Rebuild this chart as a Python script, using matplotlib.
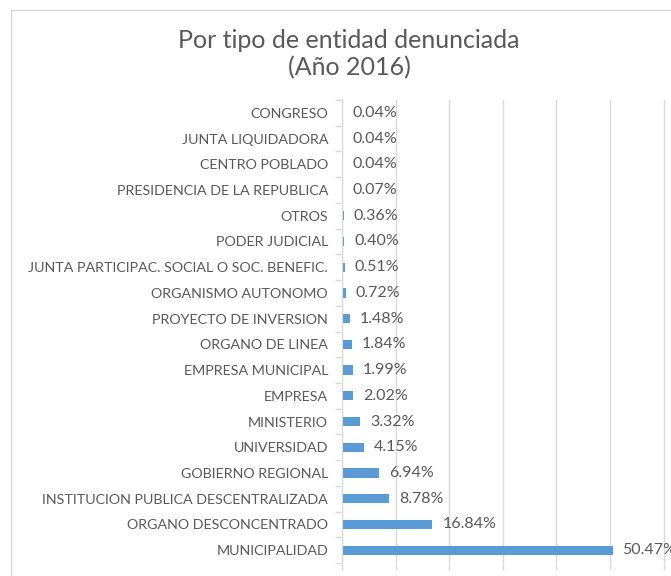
import matplotlib
matplotlib.use("Agg")
import matplotlib.pyplot as plt
from matplotlib.patches import Rectangle
from matplotlib.ticker import MultipleLocator, FixedLocator
import numpy as np

plt.rcParams['font.family'] = ['Lato', 'DejaVu Sans']

categories = [
    "CONGRESO", "JUNTA LIQUIDADORA", "CENTRO POBLADO", "PRESIDENCIA DE LA REPUBLICA",
    "OTROS", "PODER JUDICIAL", "JUNTA PARTICIPAC. SOCIAL O SOC. BENEFIC.",
    "ORGANISMO AUTONOMO", "PROYECTO DE INVERSION", "ORGANO DE LINEA",
    "EMPRESA MUNICIPAL", "EMPRESA", "MINISTERIO", "UNIVERSIDAD",
    "GOBIERNO REGIONAL", "INSTITUCION PUBLICA DESCENTRALIZADA",
    "ORGANO DESCONCENTRADO", "MUNICIPALIDAD",
]
values = [0.04, 0.04, 0.04, 0.07, 0.36, 0.40, 0.51, 0.72, 1.48, 1.84,
          1.99, 2.02, 3.32, 4.15, 6.94, 8.78, 16.84, 50.47]
labels = [f"{v:.2f}%" for v in values]

W, H = 671, 576
fig = plt.figure(figsize=(W/100, H/100), dpi=100)
fig.patch.set_facecolor('white')

# chart frame
fig.add_artist(Rectangle((11/W, -0.1), 1.2, 1 - 10/H + 0.1, transform=fig.transFigure,
                         fill=False, edgecolor='#d9d9d9', linewidth=1.0))

ax = fig.add_axes([342/W, 1 - 563/H, (W - 342)/W, (563 - 100)/H])
n = len(categories)
ypos = np.arange(n)
ax.barh(ypos, values, height=0.36, color='#5B9BD5', zorder=3)
ax.set_ylim(n - 0.5, -0.5)
ax.set_xlim(0, 10 * (W - 342) / 53.6)

for y, v, t in zip(ypos, values, labels):
    ax.annotate(t, (v, y), xytext=(10, 0), textcoords='offset pixels',
                ha='left', va='center', fontsize=11.5, color='#595959', zorder=4)

ax.set_yticks(ypos)
ax.set_yticklabels(categories, fontsize=10.3, color='#595959')
ax.yaxis.set_minor_locator(FixedLocator(np.arange(-0.5, n, 1.0)))
ax.tick_params(axis='y', which='major', length=0, pad=10)
ax.tick_params(axis='y', which='minor', length=5, color='#d9d9d9', width=1)

ax.xaxis.set_major_locator(MultipleLocator(10))
ax.tick_params(axis='x', which='major', length=5, color='#d9d9d9', width=1, labelbottom=False)
ax.grid(axis='x', color='#d9d9d9', linewidth=1, zorder=0)
for s in ['top', 'right', 'bottom']:
    ax.spines[s].set_visible(False)
ax.spines['left'].set_color('#d9d9d9')
ax.spines['left'].set_zorder(5)
ax.set_facecolor('none')

fig.text(349/W, 1 - 40/H, "Por tipo de entidad denunciada", ha='center', va='center',
         fontsize=18, color='#595959')
fig.text(349/W, 1 - 68/H, "(Año 2016)", ha='center', va='center',
         fontsize=18, color='#595959')

fig.savefig("out.png", dpi=100)
